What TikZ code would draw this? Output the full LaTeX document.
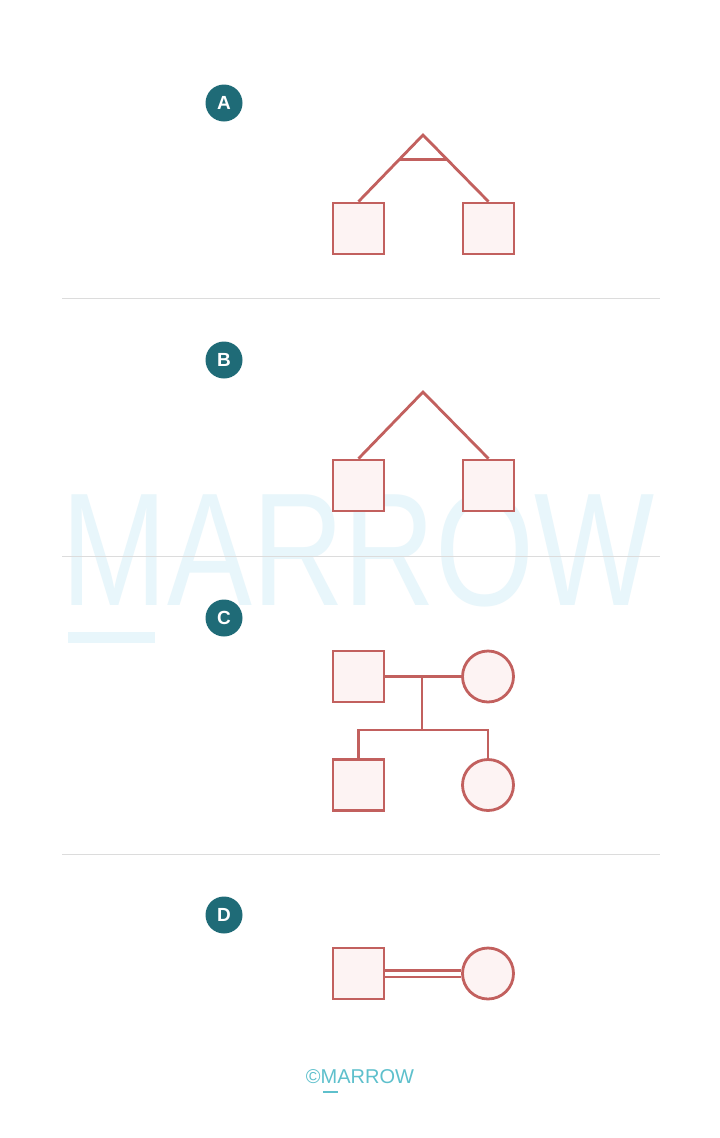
\documentclass[tikz,border=0pt]{standalone}
\usepackage{fontspec}
\setmainfont{Liberation Sans}
\usetikzlibrary{calc}
\definecolor{pedline}{HTML}{C2605E}
\definecolor{pedfill}{HTML}{FDF3F3}
\definecolor{badge}{HTML}{1F6B77}
\definecolor{wmark}{HTML}{E8F6FB}
\definecolor{sepline}{HTML}{DCDCDC}
\definecolor{logo}{HTML}{5EC0CC}
\tikzset{
  male/.style={draw=pedline, fill=pedfill, line width=2.8pt, minimum size=51pt, inner sep=0pt, rectangle},
  female/.style={draw=pedline, fill=pedfill, line width=2.8pt, minimum size=51pt, inner sep=0pt, circle},
  link/.style={draw=pedline, line width=2.8pt},
  badgenode/.style={circle, fill=badge, text=white, minimum size=37pt, inner sep=0pt, font=\bfseries\fontsize{19}{19}\selectfont},
  sep/.style={draw=sepline, line width=1pt}
}
\begin{document}
\begin{tikzpicture}[x=1pt,y=-1pt]
\useasboundingbox[fill=white] (0,0) rectangle (720,1138);
% watermark
\node[anchor=base, inner sep=0pt, text=wmark, xscale=0.79, font=\fontsize{161}{161}\selectfont] (wm) at (358,605) {MARROW};
\fill[wmark] (68,632) rectangle (155,643);
% separators
\coordinate (s1a) at (62,298); \coordinate (s1b) at (660,298);
\coordinate (s2a) at (62,556); \coordinate (s2b) at (660,556);
\coordinate (s3a) at (62,854); \coordinate (s3b) at (660,854);
\draw[sep] (s1a) -- (s1b);
\draw[sep] (s2a) -- (s2b);
\draw[sep] (s3a) -- (s3b);
% badges
\node[badgenode] (bA) at (224,103) {A};
\node[badgenode] (bB) at (224,360) {B};
\node[badgenode] (bC) at (224,618) {C};
\node[badgenode] (bD) at (224,915) {D};
% A: monozygotic twins
\node[male] (aL) at (358.5,228.5) {};
\node[male] (aR) at (488.5,228.5) {};
\coordinate (aApex) at (423,135);
\draw[link, line join=miter] (aL.north) -- (aApex) -- (aR.north);
\draw[link] ($(aApex)!0.373!(aL.north)$) -- ($(aApex)!0.373!(aR.north)$);
% B: dizygotic twins
\node[male] (bL) at (358.5,485.5) {};
\node[male] (bR) at (488.5,485.5) {};
\coordinate (bApex) at (423,392);
\draw[link, line join=miter] (bL.north) -- (bApex) -- (bR.north);
% C: family
\node[male] (cF) at (358.5,676.5) {};
\node[female] (cM) at (488,676.5) {};
\node[male] (cS) at (358.5,785) {};
\node[female] (cD) at (488,785) {};
\draw[link] (cF.east) -- (cM.west);
\coordinate (cMid) at (422,676.5);
\coordinate (cBar) at (422,730);
\draw[link] (cMid) -- (cBar);
\draw[link] (cS.north) |- (cBar) -| (cD.north);
% D: consanguineous couple
\node[male] (dF) at (358.5,973.5) {};
\node[female] (dM) at (488,973.5) {};
\draw[draw=pedline, line width=2.4pt, double=white, double distance=4pt] (dF.east) -- (dM.west);
% logo
\node[text=logo, inner sep=0pt, font=\fontsize{20}{20}\selectfont] (logo) at (360,1077) {\textcopyright MARROW};
\coordinate (ul1) at (323,1092); \coordinate (ul2) at (338,1092);
\draw[logo, line width=1.8pt] (ul1) -- (ul2);
\end{tikzpicture}
\end{document}
